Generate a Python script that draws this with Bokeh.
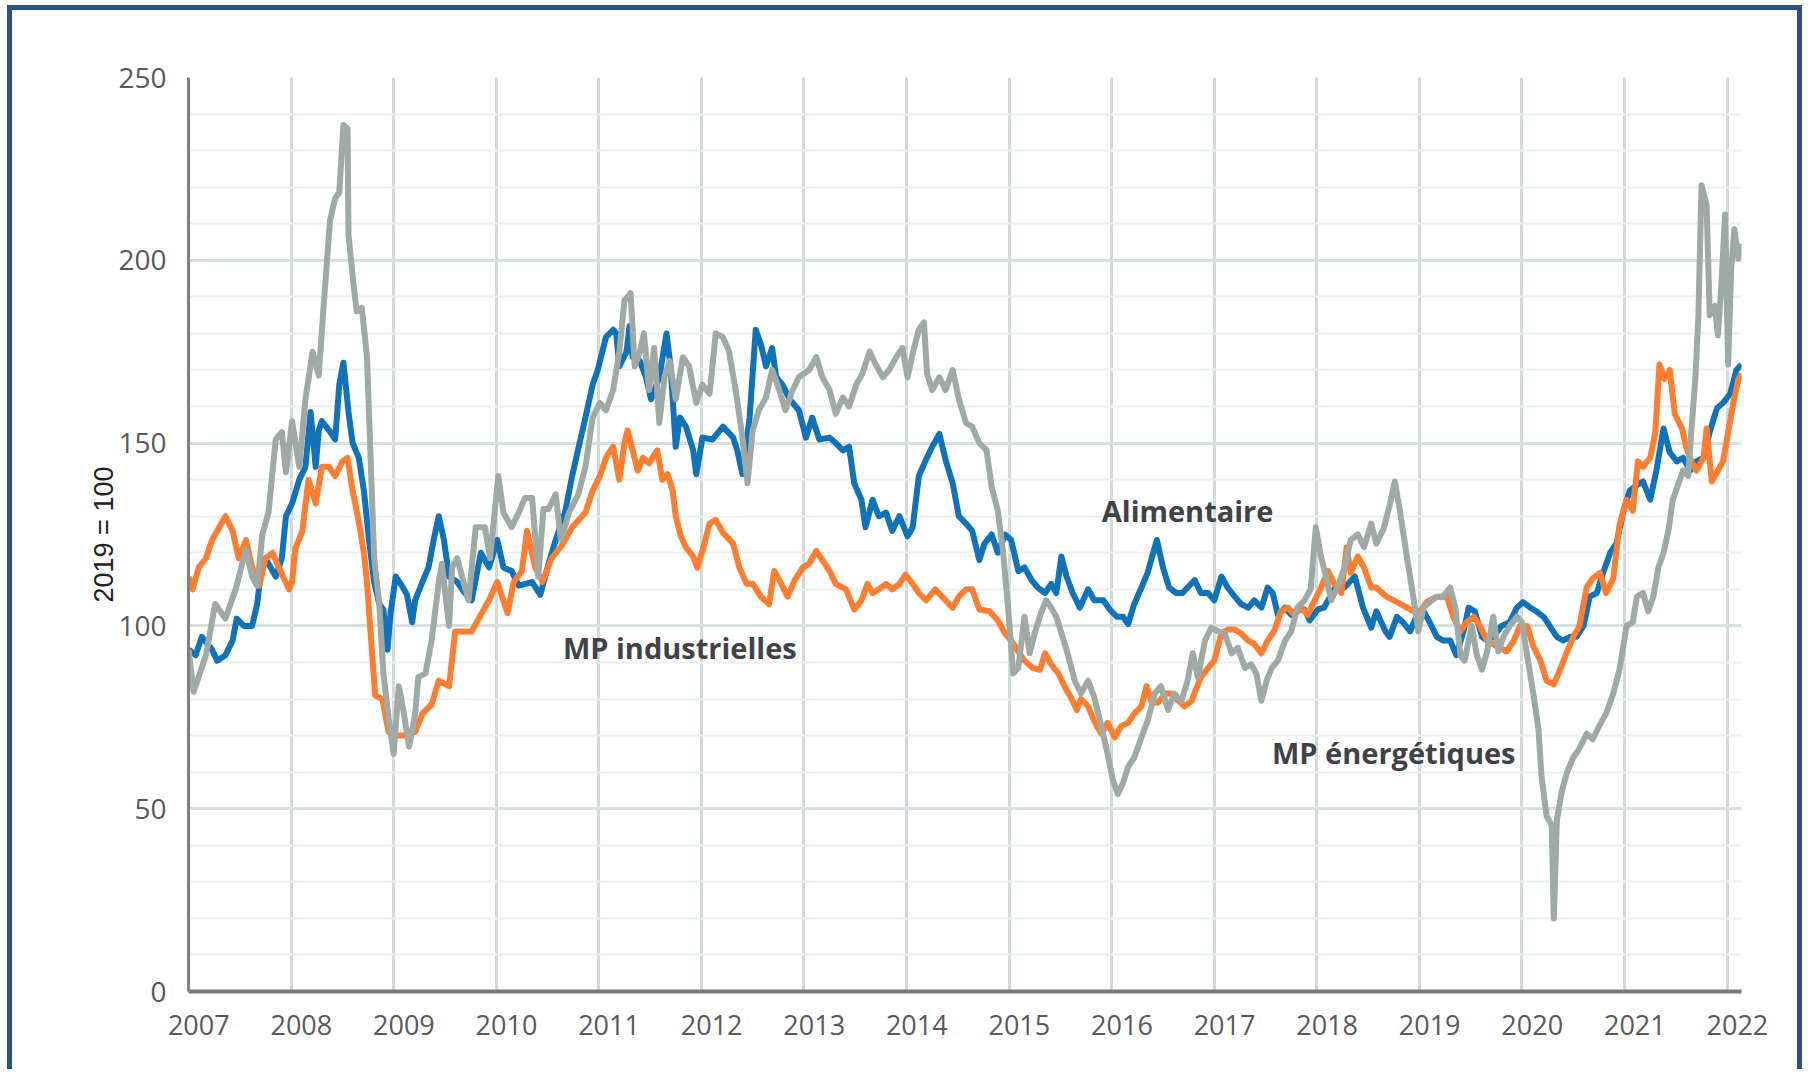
from bokeh.plotting import figure
from bokeh.models import FixedTicker, Label
from bokeh.embed import file_html
from bokeh.resources import INLINE

years = list(range(2007, 2023))
y_ticks = [0, 50, 100, 150, 200, 250]
y_grid = [0, 50, 100, 150, 200]
y_minor = [v for v in range(10, 250, 10) if v % 50]

food_dates = [2007.00, 2007.07, 2007.13, 2007.23, 2007.28, 2007.36, 2007.43, 2007.47, 2007.54, 2007.62,
              2007.67, 2007.70, 2007.75, 2007.85, 2007.91, 2007.95, 2008.01, 2008.08, 2008.14, 2008.19,
              2008.24, 2008.27, 2008.30, 2008.37, 2008.43, 2008.47, 2008.51, 2008.56, 2008.60, 2008.66,
              2008.71, 2008.76, 2008.81, 2008.86, 2008.90, 2008.94, 2008.97, 2009.02, 2009.08, 2009.13,
              2009.18, 2009.21, 2009.28, 2009.34, 2009.39, 2009.44, 2009.49, 2009.54, 2009.62, 2009.68,
              2009.76, 2009.85, 2009.93, 2010.01, 2010.07, 2010.15, 2010.22, 2010.35, 2010.43, 2010.51,
              2010.58, 2010.67, 2010.74, 2010.80, 2010.87, 2010.94, 2010.99, 2011.07, 2011.14, 2011.17,
              2011.20, 2011.27, 2011.30, 2011.33, 2011.40, 2011.46, 2011.51, 2011.59, 2011.66, 2011.70,
              2011.75, 2011.79, 2011.85, 2011.92, 2011.95, 2012.01, 2012.11, 2012.21, 2012.31, 2012.35,
              2012.40, 2012.47, 2012.53, 2012.58, 2012.63, 2012.69, 2012.73, 2012.79, 2012.86, 2012.95,
              2013.02, 2013.08, 2013.15, 2013.25, 2013.31, 2013.38, 2013.44, 2013.49, 2013.56, 2013.60,
              2013.67, 2013.73, 2013.80, 2013.86, 2013.93, 2014.01, 2014.06, 2014.12, 2014.19, 2014.25,
              2014.32, 2014.38, 2014.45, 2014.51, 2014.58, 2014.64, 2014.71, 2014.76, 2014.83, 2014.89,
              2014.96, 2015.02, 2015.09, 2015.15, 2015.22, 2015.28, 2015.35, 2015.41, 2015.46, 2015.51,
              2015.56, 2015.62, 2015.69, 2015.77, 2015.83, 2015.92, 2015.98, 2016.05, 2016.11, 2016.16,
              2016.22, 2016.29, 2016.35, 2016.44, 2016.50, 2016.56, 2016.63, 2016.69, 2016.74, 2016.81,
              2016.87, 2016.94, 2017.00, 2017.07, 2017.13, 2017.20, 2017.26, 2017.33, 2017.39, 2017.46,
              2017.52, 2017.57, 2017.62, 2017.69, 2017.75, 2017.81, 2017.88, 2017.93, 2018.01, 2018.07,
              2018.17, 2018.27, 2018.37, 2018.45, 2018.53, 2018.58, 2018.67, 2018.71, 2018.78, 2018.84,
              2018.91, 2018.97, 2019.04, 2019.10, 2019.17, 2019.23, 2019.30, 2019.36, 2019.43, 2019.48,
              2019.54, 2019.61, 2019.66, 2019.72, 2019.80, 2019.88, 2019.95, 2020.01, 2020.08, 2020.14,
              2020.21, 2020.27, 2020.34, 2020.40, 2020.47, 2020.53, 2020.60, 2020.66, 2020.73, 2020.79,
              2020.86, 2020.92, 2020.99, 2021.05, 2021.12, 2021.18, 2021.25, 2021.31, 2021.38, 2021.44,
              2021.51, 2021.57, 2021.64, 2021.70, 2021.77, 2021.83, 2021.90, 2021.96, 2022.03, 2022.09,
              2022.14]
food_values = [93.5, 92, 97, 93.5, 90.5, 92, 96, 102, 100, 100,
               106, 113.5, 118.5, 113.5, 118.5, 130, 133.5, 140, 143.5, 158.5,
               143.5, 153.5, 156, 153.5, 151, 166, 172, 158.5, 150, 146,
               137, 123.5, 112, 106, 104.5, 93.5, 103.5, 113.5, 111, 108.5,
               101, 107, 112, 116, 123.5, 130, 123.5, 113.5, 112, 109.5,
               107, 120, 116, 123.5, 116, 115, 111, 112, 108.5, 117,
               123.5, 131, 141, 148.5, 157, 166, 170, 179, 181, 180,
               171, 175, 182, 173.5, 172.5, 168, 162, 168, 180, 171,
               149, 157, 154.5, 148, 141.5, 151.5, 151, 154.5, 151.5, 148,
               141.5, 157, 181, 177, 171, 176, 168, 166, 162, 159,
               151.5, 157, 151, 151.5, 150, 148, 149, 139, 134.5, 127,
               134.5, 130, 131, 126, 130, 124.5, 127, 141, 145.5, 149,
               152.5, 145.5, 139, 130, 128, 126, 118, 122.5, 125, 120,
               125, 123.5, 115, 116, 112.5, 110.5, 109, 111.5, 109, 119,
               113.5, 109, 105, 110, 107, 107, 104.5, 102.5, 102.5, 100.5,
               106, 110.5, 114.5, 123.5, 116, 110.5, 109, 109, 110.5, 112.5,
               109, 109, 107, 113.5, 110.5, 108, 106, 105, 107, 105,
               110.5, 109, 103, 105, 103, 104.5, 104.5, 101.5, 104.5, 105,
               110, 110.5, 113.5, 105, 99.5, 104, 98.5, 97, 102.5, 101,
               98.5, 102.5, 104, 101, 97, 96, 96, 92, 98.5, 105,
               104, 97, 96, 97, 100, 101, 105, 106.5, 105, 104,
               102.5, 100, 97, 96, 97, 97, 100, 108, 109, 114.5,
               120, 122.5, 131.5, 137, 138.5, 139.5, 134.5, 142.5, 154, 147.5,
               145, 146, 142.5, 145, 146, 153, 159.5, 161, 163.5, 170,
               171.5]

industrial_dates = [2007.00, 2007.04, 2007.10, 2007.17, 2007.23, 2007.30, 2007.36, 2007.43, 2007.49, 2007.56,
                    2007.62, 2007.69, 2007.75, 2007.82, 2007.88, 2007.98, 2008.01, 2008.04, 2008.11, 2008.17,
                    2008.24, 2008.30, 2008.37, 2008.43, 2008.50, 2008.55, 2008.60, 2008.66, 2008.71, 2008.74,
                    2008.77, 2008.82, 2008.89, 2008.95, 2009.05, 2009.12, 2009.21, 2009.28, 2009.37, 2009.44,
                    2009.54, 2009.60, 2009.67, 2009.76, 2009.83, 2009.93, 2010.01, 2010.11, 2010.17, 2010.25,
                    2010.30, 2010.38, 2010.45, 2010.54, 2010.64, 2010.74, 2010.87, 2010.94, 2011.01, 2011.07,
                    2011.14, 2011.20, 2011.25, 2011.28, 2011.33, 2011.38, 2011.43, 2011.49, 2011.57, 2011.62,
                    2011.67, 2011.72, 2011.75, 2011.80, 2011.85, 2011.92, 2011.96, 2012.01, 2012.08, 2012.14,
                    2012.21, 2012.31, 2012.37, 2012.44, 2012.50, 2012.58, 2012.66, 2012.71, 2012.78, 2012.84,
                    2012.91, 2012.99, 2013.05, 2013.12, 2013.18, 2013.25, 2013.31, 2013.41, 2013.49, 2013.56,
                    2013.62, 2013.67, 2013.73, 2013.80, 2013.86, 2013.93, 2013.99, 2014.06, 2014.12, 2014.19,
                    2014.28, 2014.38, 2014.45, 2014.51, 2014.58, 2014.64, 2014.71, 2014.81, 2014.89, 2014.96,
                    2015.02, 2015.09, 2015.15, 2015.23, 2015.30, 2015.35, 2015.41, 2015.48, 2015.54, 2015.61,
                    2015.66, 2015.70, 2015.77, 2015.83, 2015.90, 2015.96, 2016.03, 2016.09, 2016.16, 2016.22,
                    2016.29, 2016.34, 2016.39, 2016.45, 2016.52, 2016.58, 2016.65, 2016.71, 2016.78, 2016.82,
                    2016.87, 2016.94, 2017.00, 2017.07, 2017.13, 2017.20, 2017.26, 2017.33, 2017.39, 2017.46,
                    2017.52, 2017.59, 2017.65, 2017.72, 2017.78, 2017.85, 2017.91, 2017.98, 2018.04, 2018.11,
                    2018.17, 2018.24, 2018.29, 2018.33, 2018.40, 2018.46, 2018.53, 2018.58, 2018.68, 2018.78,
                    2018.88, 2018.94, 2019.01, 2019.07, 2019.17, 2019.27, 2019.33, 2019.40, 2019.46, 2019.53,
                    2019.59, 2019.66, 2019.75, 2019.85, 2019.92, 2019.98, 2020.05, 2020.11, 2020.18, 2020.24,
                    2020.31, 2020.37, 2020.44, 2020.50, 2020.56, 2020.63, 2020.69, 2020.76, 2020.82, 2020.89,
                    2020.95, 2021.02, 2021.08, 2021.13, 2021.18, 2021.25, 2021.30, 2021.34, 2021.39, 2021.44,
                    2021.49, 2021.56, 2021.60, 2021.65, 2021.70, 2021.77, 2021.80, 2021.85, 2021.91, 2021.96,
                    2022.01, 2022.06, 2022.11, 2022.14]
industrial_values = [113.5, 110, 116, 118.5, 123.5, 127, 130, 126, 118.5, 123.5,
                     116, 111, 118.5, 120, 116, 110, 112, 121, 126, 140,
                     133.5, 143.5, 143.5, 141, 145, 146, 137, 128.5, 120, 112,
                     100, 81, 80, 71, 70, 70, 71, 76, 78.5, 85,
                     83.5, 98.5, 98.5, 98.5, 102, 107, 112, 103.5, 112, 115,
                     126, 116, 112, 118.5, 122, 127, 131, 137, 141, 146,
                     149, 140, 150, 153.5, 148, 142.5, 146, 144.5, 148, 140,
                     141.5, 137, 130, 124.5, 121.5, 119, 116, 120.5, 128, 129,
                     125.5, 122.5, 116, 111.5, 111.5, 108, 106, 115, 111.5, 108,
                     112.5, 116, 117, 120.5, 118, 115, 111.5, 110, 104.5, 107,
                     111.5, 109, 110, 111.5, 110, 111.5, 114, 111.5, 109, 107,
                     110, 107, 105, 108, 110, 110, 104.5, 104, 101.5, 98,
                     96, 93, 90.5, 88.5, 88, 92.5, 89.5, 87, 83.5, 80,
                     77, 80, 78, 74, 70.5, 73.5, 69.5, 72.5, 73.5, 76,
                     78, 83.5, 79, 79, 81.5, 81.5, 79.5, 78, 79.5, 82.5,
                     86, 88.5, 90.5, 98, 99, 99, 98, 96, 95, 92.5,
                     96, 99, 104, 105, 103, 105, 103, 107, 110.5, 115,
                     111.5, 109, 121.5, 114.5, 119, 116, 110.5, 110.5, 108, 106.5,
                     105, 104, 104, 106.5, 108, 108, 102.5, 98.5, 101, 102.5,
                     100, 96, 94.5, 93, 96, 100, 100, 94.5, 90.5, 85,
                     84, 88, 93, 97, 100, 110.5, 113, 114.5, 109, 113,
                     127.5, 134.5, 131.5, 145, 143.5, 146, 153, 171.5, 167.5, 170,
                     158, 154, 149, 145, 142.5, 146, 154, 139.5, 142.5, 145,
                     153, 161, 167.5, 169]

energy_dates = [2007.00, 2007.05, 2007.17, 2007.26, 2007.36, 2007.46, 2007.56, 2007.62, 2007.67, 2007.72,
                2007.78, 2007.85, 2007.91, 2007.95, 2008.01, 2008.08, 2008.14, 2008.21, 2008.27, 2008.32,
                2008.38, 2008.43, 2008.47, 2008.51, 2008.55, 2008.56, 2008.61, 2008.64, 2008.69, 2008.74,
                2008.77, 2008.81, 2008.86, 2008.90, 2008.95, 2009.00, 2009.05, 2009.10, 2009.15, 2009.21,
                2009.24, 2009.31, 2009.37, 2009.44, 2009.47, 2009.54, 2009.57, 2009.62, 2009.68, 2009.73,
                2009.80, 2009.89, 2009.94, 2010.02, 2010.07, 2010.15, 2010.22, 2010.28, 2010.35, 2010.41,
                2010.46, 2010.51, 2010.58, 2010.63, 2010.71, 2010.80, 2010.87, 2010.94, 2011.01, 2011.07,
                2011.14, 2011.20, 2011.25, 2011.31, 2011.35, 2011.40, 2011.44, 2011.49, 2011.54, 2011.59,
                2011.64, 2011.69, 2011.75, 2011.82, 2011.88, 2011.95, 2012.01, 2012.08, 2012.14, 2012.21,
                2012.27, 2012.34, 2012.40, 2012.45, 2012.50, 2012.56, 2012.63, 2012.69, 2012.76, 2012.82,
                2012.89, 2012.95, 2013.05, 2013.12, 2013.18, 2013.25, 2013.31, 2013.38, 2013.44, 2013.51,
                2013.57, 2013.64, 2013.70, 2013.77, 2013.83, 2013.90, 2013.96, 2014.01, 2014.06, 2014.12,
                2014.17, 2014.20, 2014.25, 2014.32, 2014.38, 2014.45, 2014.51, 2014.58, 2014.64, 2014.71,
                2014.78, 2014.83, 2014.89, 2014.94, 2014.99, 2015.04, 2015.09, 2015.15, 2015.20, 2015.25,
                2015.31, 2015.36, 2015.41, 2015.46, 2015.51, 2015.57, 2015.64, 2015.70, 2015.77, 2015.83,
                2015.90, 2015.96, 2016.01, 2016.06, 2016.11, 2016.16, 2016.22, 2016.29, 2016.35, 2016.42,
                2016.48, 2016.55, 2016.61, 2016.68, 2016.74, 2016.79, 2016.84, 2016.91, 2016.97, 2017.04,
                2017.10, 2017.17, 2017.23, 2017.30, 2017.36, 2017.41, 2017.46, 2017.51, 2017.56, 2017.62,
                2017.69, 2017.75, 2017.81, 2017.88, 2017.94, 2017.99, 2018.04, 2018.09, 2018.14, 2018.20,
                2018.27, 2018.33, 2018.40, 2018.46, 2018.53, 2018.58, 2018.65, 2018.71, 2018.76, 2018.81,
                2018.88, 2018.94, 2018.99, 2019.04, 2019.10, 2019.17, 2019.23, 2019.30, 2019.35, 2019.40,
                2019.44, 2019.51, 2019.56, 2019.61, 2019.66, 2019.72, 2019.77, 2019.82, 2019.88, 2019.95,
                2020.00, 2020.05, 2020.11, 2020.16, 2020.19, 2020.24, 2020.29, 2020.31, 2020.34, 2020.39,
                2020.44, 2020.50, 2020.56, 2020.63, 2020.69, 2020.76, 2020.82, 2020.89, 2020.95, 2021.02,
                2021.08, 2021.12, 2021.18, 2021.23, 2021.28, 2021.33, 2021.38, 2021.43, 2021.47, 2021.52,
                2021.57, 2021.62, 2021.65, 2021.69, 2021.72, 2021.75, 2021.80, 2021.83, 2021.88, 2021.91,
                2021.94, 2021.98, 2021.99, 2022.01, 2022.04, 2022.07, 2022.11, 2022.14]
energy_values = [93.5, 82, 92, 106, 102, 110, 121, 113.5, 111, 125,
                 131, 151, 153, 142, 156, 143.5, 162, 175, 168.5, 188.5,
                 211, 217, 218.5, 237, 236, 207, 193, 186, 187, 173.5,
                 150, 118.5, 106, 87, 75, 65, 83.5, 76, 67, 76,
                 86, 87, 96, 112, 117, 100, 116, 118.5, 112, 107,
                 127, 127, 118.5, 141, 131, 127, 131, 135, 135, 113.5,
                 132, 132, 136, 123.5, 131, 136, 143.5, 157, 161, 159,
                 164.5, 175, 189, 191, 171, 175, 180, 164.5, 176, 155.5,
                 168, 172.5, 162, 173.5, 171, 161, 166, 163.5, 180, 179,
                 175, 163.5, 151.5, 139, 153.5, 159, 162.5, 170, 164.5, 159,
                 164.5, 168, 170, 173.5, 168, 164.5, 158, 162.5, 160, 166,
                 169, 175, 171.5, 168, 170, 173.5, 176, 168, 174.5, 181,
                 183, 169, 164.5, 168, 164.5, 170, 162, 155.5, 154.5, 150,
                 148, 138, 131.5, 120.5, 105, 87, 88.5, 102.5, 92.5, 98,
                 103.5, 107, 105, 102.5, 98, 92.5, 85, 81.5, 85, 80.5,
                 72.5, 65, 58, 54, 57, 61.5, 64, 69.5, 74, 81.5,
                 83.5, 77, 81.5, 79.5, 85, 92.5, 86, 96, 99.5, 98.5,
                 98, 92.5, 94, 88.5, 89.5, 87, 79.5, 85, 88.5, 90.5,
                 96, 98.5, 105, 107, 110, 127, 119, 113.5, 107, 110.5,
                 116, 123.5, 125, 121.5, 128, 122.5, 126.5, 133, 139.5, 131.5,
                 118.5, 108, 98.5, 105, 106.5, 108, 108, 110.5, 105, 92,
                 90.5, 100, 92, 88, 93, 102.5, 93, 97, 100, 102.5,
                 101, 92, 81.5, 72, 59, 48, 45.5, 20, 47, 55,
                 60, 64, 66.5, 70.5, 69, 73, 76, 81.5, 88, 100,
                 101, 108, 109, 104, 108, 116, 120, 126.5, 134.5, 138.5,
                 142.5, 141, 153, 167.5, 185, 220.5, 215, 185, 187.5, 179.5,
                 191.5, 212.5, 198, 171.5, 198, 208.5, 200.5, 204.5]

labels = ["Alimentaire", "MP industrielles", "MP énergétiques"]
label_x = [2016.74, 2011.79, 2018.75]
label_y = [131.7, 94.1, 65.4]

p = figure(width=1795, height=1064, x_range=(2007, 2022.14), y_range=(0, 250),
           output_backend="svg", toolbar_location=None,
           min_border_left=176, min_border_right=66, min_border_top=67, min_border_bottom=83)
p.styles = {"border": "5px solid #2b5184", "border-bottom": "0px", "margin-left": "7px", "margin-top": "5px"}
p.background_fill_color = "white"
p.border_fill_color = "white"
p.outline_line_color = None

# y axis
p.yaxis.ticker = FixedTicker(ticks=y_ticks)
p.yaxis.major_tick_in = 0
p.yaxis.major_tick_out = 0
p.yaxis.minor_tick_in = 0
p.yaxis.minor_tick_out = 0
p.yaxis.axis_line_color = "#808080"
p.yaxis.axis_line_width = 3
p.yaxis.major_label_text_font = "Open Sans"
p.yaxis.major_label_text_font_size = "28px"
p.yaxis.major_label_text_color = "#595959"
p.yaxis.major_label_standoff = 22
p.yaxis.axis_label = "2019 = 100"
p.yaxis.axis_label_text_font = "Liberation Sans"
p.yaxis.axis_label_text_font_style = "normal"
p.yaxis.axis_label_text_font_size = "27px"
p.yaxis.axis_label_text_color = "#222222"
p.yaxis.axis_label_standoff = -4

# x axis
x_label_ticks = [round(y + 0.1, 2) for y in years]
p.xaxis.ticker = FixedTicker(ticks=x_label_ticks)
p.xaxis.major_label_overrides = {t: str(y) for t, y in zip(x_label_ticks, years)}
p.xaxis.major_tick_in = 0
p.xaxis.major_tick_out = 0
p.xaxis.minor_tick_in = 0
p.xaxis.minor_tick_out = 0
p.xaxis.axis_line_color = "#777777"
p.xaxis.axis_line_width = 4
p.xaxis.major_label_text_font = "Open Sans"
p.xaxis.major_label_text_font_size = "27px"
p.xaxis.major_label_text_color = "#595959"
p.xaxis.major_label_standoff = 23

# grids
p.xgrid.ticker = FixedTicker(ticks=years)
p.xgrid.grid_line_color = "#d3dbd8"
p.xgrid.grid_line_width = 3
p.ygrid.ticker = FixedTicker(ticks=y_grid, minor_ticks=y_minor)
p.ygrid.grid_line_color = "#d8dfdd"
p.ygrid.grid_line_width = 3
p.ygrid.minor_grid_line_color = "#edf0ef"
p.ygrid.minor_grid_line_width = 2

p.line(food_dates, food_values, line_width=6, color="#1072B9", line_join="round")
p.line(industrial_dates, industrial_values, line_width=6, color="#FD7E30", line_join="round")
p.line(energy_dates, energy_values, line_width=6, color="#9FAAA7", line_join="round")

for t, lx, ly in zip(labels, label_x, label_y):
    p.add_layout(Label(x=lx, y=ly, text=t, text_align="center", text_baseline="middle",
                       text_font="Open Sans", text_font_style="bold", text_font_size="29px",
                       text_color="#3f4246"))

open("out.html", "w").write(file_html(p, INLINE))
